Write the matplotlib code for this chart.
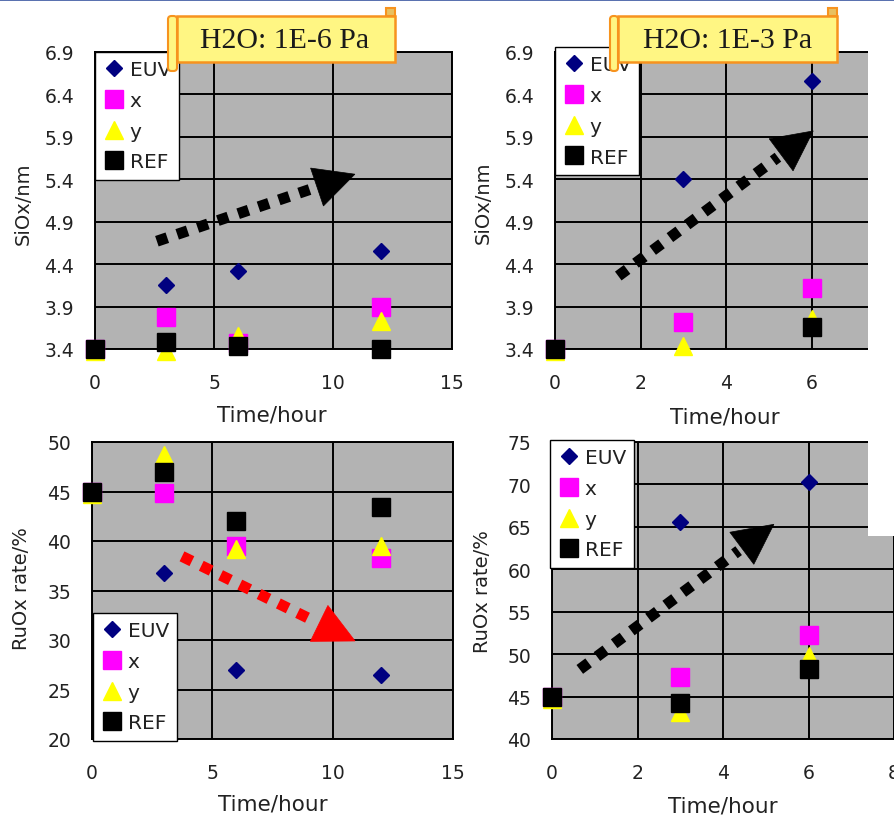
import matplotlib
matplotlib.use("Agg")
import matplotlib.pyplot as plt
import numpy as np
from matplotlib.lines import Line2D
from matplotlib.patches import Rectangle, Polygon, FancyBboxPatch

plt.rcParams['font.family'] = ['DejaVu Sans']

W, H = 894, 820

# ---- data -------------------------------------------------------------
time_long = [0, 3, 6, 12]
time_short = [0, 3, 6]

sio_lo_euv = [3.40, 4.15, 4.32, 4.56]
sio_lo_x = [3.40, 3.78, 3.47, 3.89]
sio_lo_y = [3.38, 3.38, 3.55, 3.73]
sio_lo_ref = [3.40, 3.48, 3.43, 3.40]

sio_hi_euv = [3.40, 5.40, 6.56]
sio_hi_x = [3.40, 3.72, 4.12]
sio_hi_y = [3.38, 3.43, 3.75]
sio_hi_ref = [3.40, np.nan, 3.66]

ruo_lo_euv = [45.0, 36.8, 27.0, 26.5]
ruo_lo_x = [45.0, 44.8, 39.5, 38.3]
ruo_lo_y = [44.7, 48.7, 39.2, 39.5]
ruo_lo_ref = [45.0, 47.0, 42.0, 43.4]

ruo_hi_euv = [45.0, 65.6, 70.3]
ruo_hi_x = [45.0, 47.3, 52.2]
ruo_hi_y = [44.7, 43.2, 49.8]
ruo_hi_ref = [45.0, 44.3, 48.2]

series_names = ['EUV', 'x', 'y', 'REF']

sio_ticks = [3.4, 3.9, 4.4, 4.9, 5.4, 5.9, 6.4, 6.9]
ruo_lo_ticks = [20, 25, 30, 35, 40, 45, 50]
ruo_hi_ticks = [40, 45, 50, 55, 60, 65, 70, 75]
long_xticks = [0, 5, 10, 15]
short_xticks = [0, 2, 4, 6, 8]

# ---- styling ----------------------------------------------------------
PLOT_BG = '#b3b3b3'
TXT = '#222222'
marker_styles = {
    'EUV': dict(marker='D', color='#000080', ms=8.4),
    'x': dict(marker='s', color='#ff00ff', ms=12.3),
    'y': dict(marker='^', color='#ffff00', ms=12.8),
    'REF': dict(marker='s', color='#000000', ms=12.3),
}

fig = plt.figure(figsize=(W / 100, H / 100), dpi=100)
fig.patch.set_facecolor('white')


def px_rect(l, t, r, b):
    return [l / W, 1 - b / H, (r - l) / W, (b - t) / H]


def make_panel(rect, xlim, xticks, ylim, yticks, yfmt, times, values,
               legend_at, xlabel_at, ylabel_at, ylabel, hide_last_x=False):
    ax = fig.add_axes(px_rect(*rect))
    ax.set_facecolor(PLOT_BG)
    ax.set_xlim(*xlim)
    ax.set_ylim(*ylim)
    ax.set_xticks(xticks)
    xlabels = [str(v) for v in xticks]
    if hide_last_x:
        xlabels[-1] = ''
    ax.set_xticklabels(xlabels)
    ax.set_yticks(yticks)
    ax.set_yticklabels([yfmt.format(v) for v in yticks])
    ax.grid(True, color='#000000', lw=1.4)
    ax.set_axisbelow(True)
    for s in ax.spines.values():
        s.set_color('#000000')
        s.set_linewidth(1.4)
    ax.tick_params(axis='x', length=0, pad=17, labelsize=13.5, labelcolor=TXT)
    ax.tick_params(axis='y', length=0, pad=15, labelsize=13.5, labelcolor=TXT)
    handles = []
    for name, vals in zip(series_names, values):
        st = marker_styles[name]
        ax.plot(times, vals, linestyle='none', marker=st['marker'],
                color=st['color'], mec=st['color'], ms=st['ms'],
                clip_on=False, zorder=3)
        handles.append(Line2D([], [], linestyle='none', marker=st['marker'],
                              color=st['color'], mec=st['color'], ms=st['ms']))
    leg = ax.legend(handles, series_names, loc='upper left',
                    bbox_to_anchor=(legend_at[0] / W, 1 - legend_at[1] / H),
                    bbox_transform=fig.transFigure, borderaxespad=0,
                    frameon=True, fancybox=False, framealpha=1,
                    edgecolor='#000000', fontsize=14.5, handlelength=1.0,
                    handletextpad=0.3, labelspacing=0.58, borderpad=0.42)
    leg.get_frame().set_linewidth(1.0)
    for t in leg.get_texts():
        t.set_color(TXT)
    leg.set_zorder(10)
    fig.text(xlabel_at[0] / W, 1 - xlabel_at[1] / H, 'Time/hour',
             ha='center', va='center', fontsize=15.5, color=TXT)
    fig.text(ylabel_at[0] / W, 1 - ylabel_at[1] / H, ylabel, rotation=90,
             ha='center', va='center', fontsize=14, color=TXT)
    return ax


def trend_arrow(ax, start, tip, color, head_len=40, head_w=40, lw_px=11):
    p0 = ax.transData.transform(start)
    p1 = ax.transData.transform(tip)
    d = p1 - p0
    u = d / np.hypot(*d)
    n = np.array([-u[1], u[0]])
    base = p1 - u * head_len
    line_end = base - u * 4
    to_fig = lambda p: (p[0] / W, p[1] / H)
    lw_pt = lw_px * 72 / 100
    ln = Line2D([to_fig(p0)[0], to_fig(line_end)[0]],
                [to_fig(p0)[1], to_fig(line_end)[1]],
                transform=fig.transFigure, color=color, lw=lw_pt,
                linestyle=(0, (1.0, 0.95)), dash_capstyle='butt', zorder=6)
    fig.add_artist(ln)
    tri = [to_fig(p1), to_fig(base + n * head_w / 2), to_fig(base - n * head_w / 2)]
    fig.add_artist(Polygon(tri, closed=True, transform=fig.transFigure,
                           facecolor=color, edgecolor=color, lw=0.5, zorder=6))


def callout(main, strip, tab, text, center):
    fill = '#fff683'
    edge = '#f7931e'
    l, r, t, b = strip
    fig.add_artist(FancyBboxPatch((l / W, 1 - b / H), (r - l) / W, (b - t) / H,
                                  boxstyle='round,pad=0,rounding_size=0.004',
                                  transform=fig.transFigure, facecolor=fill,
                                  edgecolor=edge, lw=1.5, zorder=12))
    l, r, t, b = tab
    fig.add_artist(Rectangle((l / W, 1 - b / H), (r - l) / W, (b - t) / H,
                             transform=fig.transFigure, facecolor='#e8c060',
                             edgecolor=edge, lw=1.5, zorder=12))
    l, r, t, b = main
    fig.add_artist(Rectangle((l / W, 1 - b / H), (r - l) / W, (b - t) / H,
                             transform=fig.transFigure, facecolor=fill,
                             edgecolor=edge, lw=1.8, zorder=13))
    fig.text(center[0] / W, 1 - center[1] / H, text, ha='center', va='center',
             fontsize=21.5, family='Liberation Serif', color='#1a1a1a', zorder=14)


# ---- panels -----------------------------------------------------------
ax_tl = make_panel((95, 53, 452, 350), (0, 15), long_xticks, (3.4, 6.9), sio_ticks,
                   '{:.1f}', time_long, [sio_lo_euv, sio_lo_x, sio_lo_y, sio_lo_ref],
                   (95, 53), (272, 416), (23, 204), 'SiOx/nm')
ax_tr = make_panel((555, 53, 897, 350), (0, 8), short_xticks, (3.4, 6.9), sio_ticks,
                   '{:.1f}', time_short, [sio_hi_euv, sio_hi_x, sio_hi_y, sio_hi_ref],
                   (555, 48), (725, 418), (483, 203), 'SiOx/nm', hide_last_x=True)
ax_bl = make_panel((92, 443, 453, 740), (0, 15), long_xticks, (20, 50), ruo_lo_ticks,
                   '{:d}', time_long, [ruo_lo_euv, ruo_lo_x, ruo_lo_y, ruo_lo_ref],
                   (93, 614), (273, 805), (22, 589), 'RuOx rate/%')
ax_br = make_panel((552, 443, 894, 740), (0, 8), short_xticks, (40, 75), ruo_hi_ticks,
                   '{:d}', time_short, [ruo_hi_euv, ruo_hi_x, ruo_hi_y, ruo_hi_ref],
                   (550, 441), (723, 807), (482, 592), 'RuOx rate/%')

# trend arrows
trend_arrow(ax_tl, (2.6, 4.67), (10.92, 5.46), '#000000')
trend_arrow(ax_tr, (1.48, 4.26), (6.04, 5.97), '#000000')
trend_arrow(ax_bl, (3.74, 38.45), (10.93, 29.9), '#ff0000')
trend_arrow(ax_br, (0.65, 48.2), (5.19, 65.3), '#000000')

# condition labels
callout((177, 395, 17, 63), (168, 177, 17, 72), (386, 395, 9, 17),
        'H2O: 1E-6 Pa', (285, 41))
callout((618, 837, 17, 63), (610, 618, 17, 72), (828, 837, 9, 17),
        'H2O: 1E-3 Pa', (728, 41))

# blank strip on the right and thin frame line on top
fig.add_artist(Rectangle((868 / W, 1 - 537 / H), 26 / W, 537 / H,
                         transform=fig.transFigure, facecolor='white',
                         edgecolor='none', zorder=20))
fig.add_artist(Rectangle((0, 1 - 2 / H), 1, 2 / H, transform=fig.transFigure,
                         facecolor='#5a72b0', edgecolor='none', zorder=21))

fig.savefig('out.png', dpi=100)
